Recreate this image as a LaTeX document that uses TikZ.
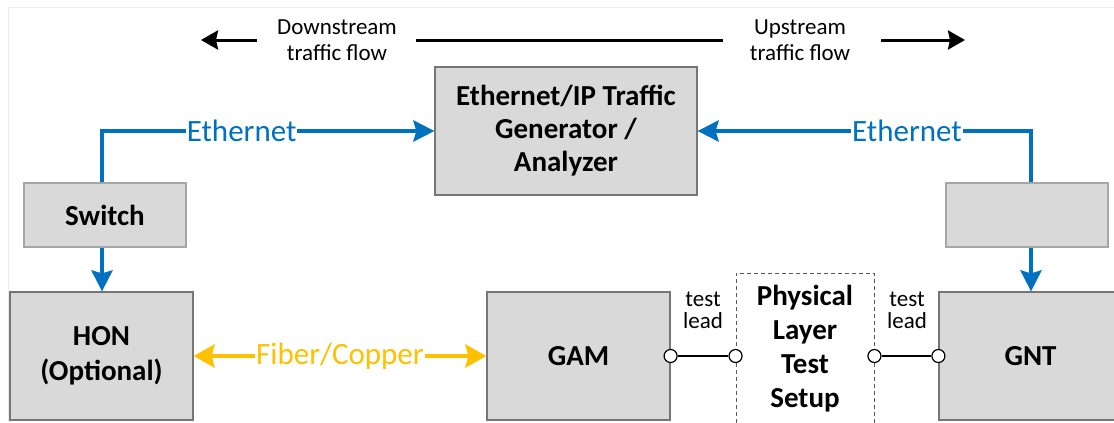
\documentclass[tikz,border=0pt]{standalone}
\usepackage{fontspec}
\setmainfont{Carlito}
\usetikzlibrary{arrows.meta}
\definecolor{ethblue}{HTML}{0070C0}
\definecolor{fibgold}{HTML}{FFC000}
\definecolor{boxfill}{HTML}{D9D9D9}
\definecolor{boxedge}{HTML}{767676}
\definecolor{lightedge}{HTML}{A6A6A6}
\tikzset{
  unit/.style={draw=boxedge, line width=1.2pt, fill=boxfill, inner sep=0pt, align=center,
    font=\bfseries\fontsize{29}{33}\selectfont},
  smallunit/.style={unit, draw=lightedge},
  ethlink/.style={draw=ethblue, line width=4pt, -{Stealth[length=21pt,width=21pt,inset=3pt]}},
  fiblink/.style={draw=fibgold, line width=4pt, {Stealth[length=21pt,width=23pt,inset=3pt]}-{Stealth[length=21pt,width=23pt,inset=3pt]}},
  linklabel/.style={fill=white, inner sep=1pt, font=\fontsize{31}{35}\selectfont},
  flowtext/.style={align=center, font=\fontsize{23}{26}\selectfont, inner sep=0pt},
  flowline/.style={draw=black, line width=3pt},
  flowtip/.style={-{Stealth[length=17pt,width=19pt,inset=2pt]}},
  leadtext/.style={align=center, font=\fontsize{23}{22}\selectfont, inner sep=0pt},
  port/.style={circle, draw=black, fill=white, line width=1.2pt, minimum size=13pt, inner sep=0pt},
  lead/.style={draw=black, line width=1.6pt},
}
\begin{document}
\begin{tikzpicture}[x=1pt, y=-1pt]
\useasboundingbox (0,0) rectangle (1114,423);
\clip (0,0) rectangle (1114,423);

% faint outer frame
\draw[black!7, line width=1pt] (8,430) |- (1120,7);

% traffic direction legend
\node[flowtext] (down) at (337,40) {Downstream\\traffic flow};
\node[flowtext] (up) at (800,40) {Upstream\\traffic flow};
\coordinate (dtail) at (257,40);
\coordinate (dtip) at (201,40);
\coordinate (mid1) at (416,40);
\coordinate (mid2) at (723,40);
\coordinate (utail) at (881,40);
\coordinate (utip) at (965,40);
\draw[flowline, flowtip] (dtail) -- (dtip);
\draw[flowline] (mid1) -- (mid2);
\draw[flowline, flowtip] (utail) -- (utip);

% equipment
\node[unit, minimum width=262pt, minimum height=128pt] (gen) at (566,131)
  {Ethernet/IP Traffic\\Generator /\\Analyzer};
\node[smallunit, minimum width=162pt, minimum height=64pt] (switch) at (105,215) {Switch};
\node[smallunit, minimum width=162pt, minimum height=64pt] (rbox) at (1027,215) {};
\node[unit, minimum width=183pt, minimum height=128pt, font=\bfseries\fontsize{29}{35}\selectfont]
  (hon) at (101.5,356) {HON\\(Optional)};
\node[unit, minimum width=183pt, minimum height=128pt] (gam) at (578.5,356) {GAM};
\node[unit, minimum width=183pt, minimum height=128pt] (gnt) at (1030.5,356) {GNT};
\node[draw=black!65, dashed, dash pattern=on 4pt off 3pt, line width=0.9pt, fill=white,
  minimum width=138pt, minimum height=152pt, inner sep=0pt, align=center,
  font=\bfseries\fontsize{29}{34}\selectfont] (phy) at (805,349)
  {Physical\\Layer\\Test\\Setup};

% Ethernet links to the traffic generator
\draw[ethlink] ([xshift=-3pt]switch.north) |- (gen.west)
  node[linklabel, text=ethblue, pos=0.71] (ethl) {Ethernet};
\draw[ethlink] ([xshift=4pt]rbox.north) |- (gen.east)
  node[linklabel, text=ethblue, pos=0.686] (ethr) {Ethernet};
\draw[ethlink] ([xshift=-3pt]switch.south) -- ([xshift=-3pt]switch.south |- hon.north);
\draw[ethlink] ([xshift=4pt]rbox.south) -- ([xshift=4pt]rbox.south |- gnt.north);

% optical / copper access link
\draw[fiblink] (hon.east) -- (gam.west)
  node[linklabel, text=fibgold, pos=0.5] (fib) {Fiber/Copper};

% test leads to the physical layer test setup
\node[port] (p1) at (gam.east) {};
\node[port] (p2) at (phy.west |- gam.east) {};
\node[port] (p3) at (phy.east |- gam.east) {};
\node[port] (p4) at (gnt.west) {};
\draw[lead] (p1) -- (p2);
\draw[lead] (p3) -- (p4);
\node[leadtext] (tl1) at (703,310) {test\\lead};
\node[leadtext] (tl2) at (907,310) {test\\lead};
\end{tikzpicture}
\end{document}
